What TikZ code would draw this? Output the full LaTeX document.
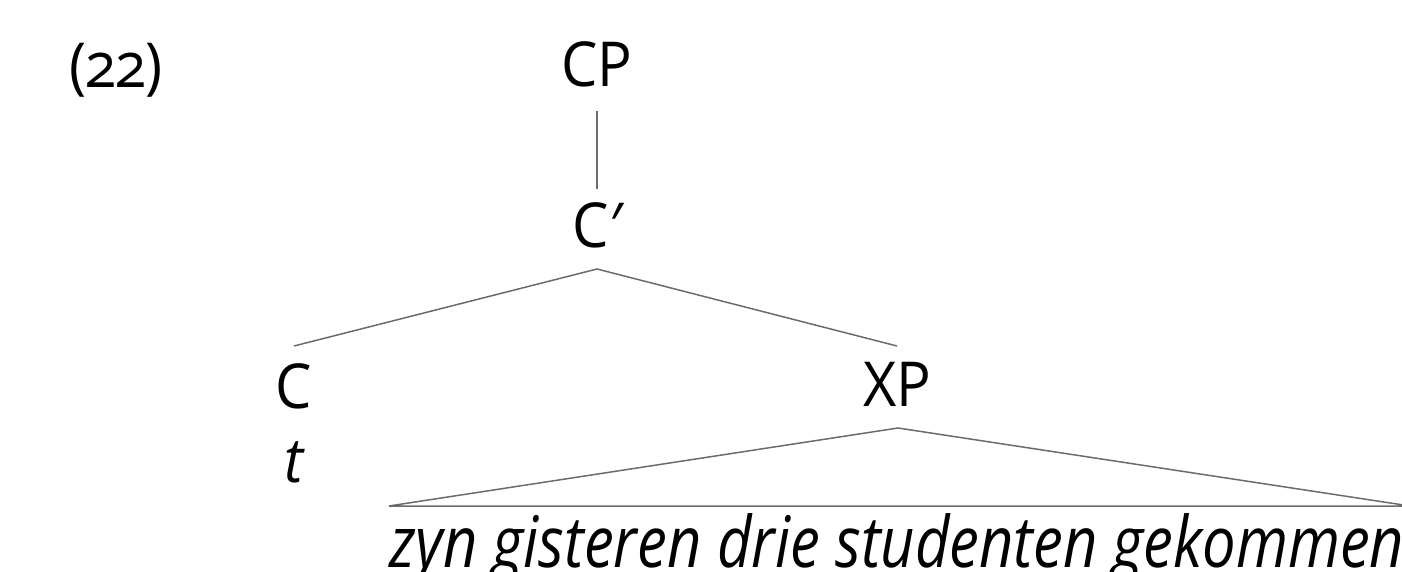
\documentclass[tikz,border=0pt]{standalone}
\usepackage{fontspec}
\setmainfont[Numbers=OldStyle,FakeStretch=0.93]{Open Sans}
\newfontfamily\phrasefont[FakeStretch=0.84]{Open Sans}
\begin{document}
\begin{tikzpicture}[x=1pt,y=-1pt,
  lbl/.style={inner sep=0pt,anchor=base,font=\fontsize{62}{66}\selectfont},
  phrase/.style={inner sep=0pt,anchor=base west,font=\phrasefont\itshape\fontsize{71}{75}\selectfont},
  edge/.style={draw=black!58,line width=1.5pt}]
\useasboundingbox (0,0) rectangle (1402,572);
\node[lbl] (num) at (116,88) {(22)};
\node[lbl] (cp) at (597,87) {CP};
\node[lbl] (cbar) at (597,247) {C{\itshape ′}};
\node[lbl] (c) at (294,408) {C};
\node[lbl] (xp) at (897,406) {XP};
\node[lbl] (t) at (294,482) {\itshape t};
\node[phrase] (words) at (389,567) {zyn gisteren drie studenten gekommen};
\coordinate (cpb) at (597,111);
\coordinate (cbt) at (597,189);
\coordinate (cbb) at (597,269);
\coordinate (ct) at (294,346);
\coordinate (xt) at (897,346);
\coordinate (xb) at (898,428);
\coordinate (bl) at (389,506);
\coordinate (br) at (1410,506);
\draw[edge] (cpb) -- (cbt);
\draw[edge] (ct) -- (cbb) -- (xt);
\draw[edge] (bl) -- (xb) -- (br) -- cycle;
\end{tikzpicture}
\end{document}
